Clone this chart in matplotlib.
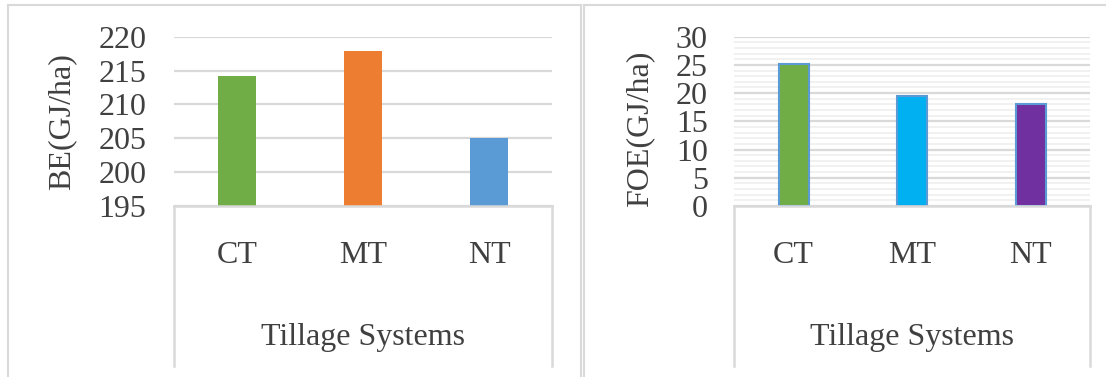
#!/usr/bin/env python3

import matplotlib as mpl
mpl.use('Agg')
import matplotlib.pyplot as plt
from matplotlib.lines import Line2D
from matplotlib.ticker import MultipleLocator

##########################DATA#######################

systems = ['CT', 'MT', 'NT']
be_values = [214.2, 217.9, 205.0]
foe_values = [25.1, 19.5, 18.1]
be_ticks = [195, 200, 205, 210, 215, 220]
foe_ticks = [0, 5, 10, 15, 20, 25, 30]

be_colors = ['#70AD47', '#ED7D31', '#5B9BD5']
foe_colors = ['#70AD47', '#00B0F0', '#7030A0']

text_color = '#404040'
grid_color = '#D9D9D9'

plt.rcParams['font.family'] = ['Liberation Serif', 'DejaVu Serif']
plt.rcParams['font.size'] = 23

W, H = 1106, 377
fig = plt.figure(figsize=(W / 100, H / 100), dpi=100)


def px_axes(x0, y_top, x1, y_bot):
    return fig.add_axes([x0 / W, 1 - y_bot / H, (x1 - x0) / W, (y_bot - y_top) / H])


def style(ax, ylabel, label_x, label_y, tickpad):
    for s in ax.spines.values():
        s.set_visible(False)
    ax.set_xlim(-0.5, 2.5)
    ax.set_axisbelow(True)
    ax.grid(axis='y', which='major', color=grid_color, lw=1.6)
    ax.tick_params(axis='y', length=0, pad=tickpad, labelcolor=text_color)
    ax.tick_params(axis='x', length=0, pad=25, labelcolor=text_color)
    ax.set_xticks(range(len(systems)), systems)
    ax.set_xlabel('Tillage Systems', color=text_color, labelpad=38)
    ax.set_ylabel(ylabel, color=text_color, va='center')
    ax.yaxis.set_label_coords(label_x, label_y)
    # category box under the plot area
    depth = -0.945
    for xs, ys in [([0, 0], [0, depth]), ([0, 1], [0, 0]), ([1, 1], [0, depth])]:
        ax.add_line(Line2D(xs, ys, transform=ax.transAxes, color=grid_color,
                           lw=1.8, clip_on=False))


# left chart: BE
ax1 = px_axes(174, 36.7, 552, 206)
ax1.bar(range(len(systems)), [v - 195 for v in be_values], bottom=195,
        width=0.294, color=be_colors)
ax1.set_ylim(195, 220)
ax1.set_yticks(be_ticks)
style(ax1, 'BE(GJ/ha)', -0.296, 0.5, 20)

# right chart: FOE
ax2 = px_axes(734.3, 36.7, 1090, 206)
ax2.bar(range(len(systems)), foe_values, width=0.253, color=foe_colors,
        edgecolor='#5B9BD5', linewidth=1.5)
ax2.set_ylim(0, 30)
ax2.set_yticks(foe_ticks)
ax2.yaxis.set_minor_locator(MultipleLocator(1))
ax2.grid(axis='y', which='minor', color='#EFEFEF', lw=1.2)
ax2.tick_params(axis='y', which='minor', length=0)
style(ax2, 'FOE(GJ/ha)', -0.265, 0.455, 19)

# panel frames
for xs, ys in [([8, 8], [5, 377]), ([8, 581], [5, 5]), ([581, 581], [5, 377]),
               ([584, 584], [5, 377]), ([584, 1106], [5, 5])]:
    fig.add_artist(Line2D([x / W for x in xs], [1 - y / H for y in ys],
                          color=grid_color, lw=1.5))

plt.savefig('out.png', dpi=100)
